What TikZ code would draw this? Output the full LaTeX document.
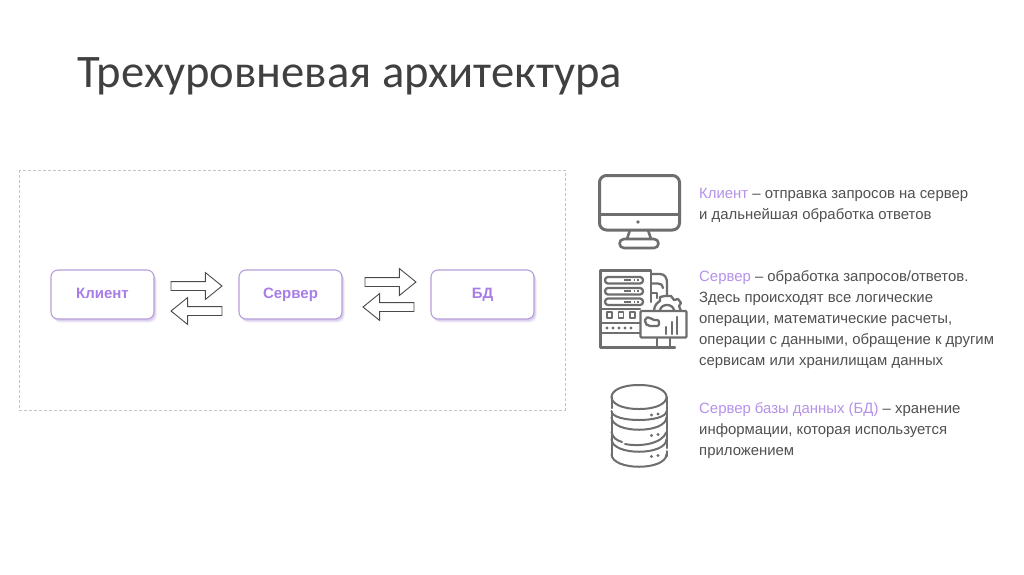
\documentclass[tikz,border=0pt]{standalone}
\usepackage{fontspec}
\setmainfont{Liberation Sans}
\newfontfamily\titlefont{Carlito}
\usetikzlibrary{shapes.arrows}
\definecolor{accent}{HTML}{A87DE8}
\definecolor{lilac}{HTML}{B79FDC}
\definecolor{bodytext}{HTML}{505050}
\definecolor{icongray}{HTML}{6E6E6E}
\definecolor{dashgray}{HTML}{C4C4C4}
\definecolor{arrowgray}{HTML}{4A4A4A}
\tikzset{
  x=1pt,y=-1pt,
  tier/.style={draw=lilac,line width=1.1pt,rounded corners=7pt,fill=white,minimum width=103pt,minimum height=49pt,inner sep=0pt,outer sep=0pt,
    text height=10.5pt,text depth=3pt,
    font=\fontsize{15}{16}\selectfont\bfseries,text=accent,
    preaction={draw=none,fill=lilac,fill opacity=.22,transform canvas={xshift=2.5pt,yshift=-3.5pt}},
    preaction={draw=none,fill=lilac,fill opacity=.35,transform canvas={xshift=1.5pt,yshift=-2pt}}},
  blockarrow/.style={single arrow,draw=arrowgray,line width=.9pt,fill=white,minimum height=51pt,text height=8pt,text depth=0pt,text width=0pt,single arrow head extend=9pt,single arrow tip angle=78,inner sep=0pt,outer sep=0pt,anchor=tail},
  desc/.style={anchor=north west,align=left,inner sep=0pt,text=bodytext,font=\fontsize{14.9}{21}\selectfont},
  icon/.style={draw=icongray,line width=3pt,line join=round,line cap=round},
  iconthin/.style={draw=icongray,line width=2.3pt,line join=round,line cap=round},
  dbline/.style={draw=icongray,line width=2pt,line cap=round},
}
\begin{document}
\begin{tikzpicture}
\useasboundingbox[fill=white] (0,0) rectangle (1024,574);
\node[anchor=west,inner sep=0pt,text=black!75,font=\titlefont\fontsize{46.6}{52}\selectfont] (title) at (77,76) {Трехуровневая архитектура};

\draw[dashgray,line width=.8pt,densely dashed] (19,170) rectangle (565,410);

\node[tier] (client) at (102.5,294.5) {Клиент};
\node[tier] (server) at (290.5,294.5) {Сервер};
\node[tier] (db) at (482.5,294.5) {БД};

\node[blockarrow] (a1) at (171,286) {};
\node[blockarrow,shape border rotate=180] (a2) at (222,311) {};
\node[blockarrow] (a3) at (365,282) {};
\node[blockarrow,shape border rotate=180] (a4) at (414,307) {};

% monitor icon
\draw[icon,rounded corners=7pt] (599.5,175.5) rectangle (679.5,230);
\draw[icon] (599.5,214) -- (679.5,214);
\fill[icongray] (638,222) circle (1.8pt);
\draw[iconthin,line width=2.6pt] (630,230) -- (627,239) (648,230) -- (651,239);
\draw[icon,line width=2.6pt,rounded corners=4.5pt] (619.5,239) rectangle (658.5,248);

% server icon
\begin{scope}
\draw[iconthin] (651,302) -- (651,270.5) -- (600.5,270.5) -- (600.5,347.5) -- (654,347.5);
\foreach \y in {277,288,298.5}{
  \draw[iconthin,rounded corners=3pt] (605,\y) rectangle (643,\y+6.5);
  \draw[icongray,line width=1.6pt] (624,\y+3.2) -- (631,\y+3.2) (633.5,\y+3.2) -- (635,\y+3.2) (637,\y+3.2) -- (639,\y+3.2);
}
\draw[iconthin] (600.5,309) -- (640,309);
\foreach \x in {607,618.5,630}{\draw[iconthin,line width=1.8pt] (\x,312) rectangle (\x+5,318);}
\draw[iconthin] (600.5,323) -- (640,323) (600.5,333) -- (640,333);
\foreach \x in {607,613,619,625,631}{\fill[icongray] (\x,328) circle (1.7pt);}
\draw[iconthin] (651,274) -- (660,274) .. controls (665,274) and (667,278) .. (667,283) -- (667,296);
\draw[iconthin] (651,283.5) -- (658,283.5) .. controls (661,283.5) and (663,285) .. (663,288);
\draw[iconthin] (651,293) -- (657,293) -- (657,298);
\draw[iconthin] (654,311) .. controls (654,305) and (658,302) .. (660,301) -- (660,297) -- (665,296) -- (671,296) -- (674,300) -- (678,299) -- (681,303) -- (679,306) -- (681,311);
\draw[iconthin] (660,311) .. controls (660,303) and (674,303) .. (674,311);
\draw[iconthin,fill=white,rounded corners=1pt] (640.5,311) rectangle (686.5,337.5);
\draw[iconthin,rounded corners=2pt] (645,318) -- (650,317) -- (652,320) -- (659,320) -- (659,326) -- (648,326) -- (645,323) -- cycle;
\draw[iconthin] (666,334) -- (666,327) (672,334) -- (672,322) (677,334) -- (677,317);
\draw[iconthin] (657,338) -- (657,346) (670,338) -- (670,346) (652,347.5) -- (675,347.5);
\end{scope}

% database icon
\draw[dbline] (639,385) .. controls (620.5,385) and (611.5,391) .. (611.5,397) .. controls (611.5,403) and (620.5,409) .. (639,409) .. controls (657.5,409) and (666.5,403) .. (666.5,397) .. controls (666.5,391) and (657.5,385) .. (639,385) -- cycle;
\draw[dbline] (611.5,397) -- (611.5,408) (611.5,412) -- (611.5,456);
\draw[dbline] (666.5,397) -- (666.5,448) (666.5,451) -- (666.5,456);
\draw[dbline] (611.5,411) .. controls (611.5,423) and (666.5,423) .. (666.5,411);
\draw[dbline] (611.5,417) .. controls (611.5,434) and (666.5,434) .. (666.5,417);
\draw[dbline] (611.5,432) .. controls (613,438) and (616,440) .. (622,442);
\draw[dbline] (625,444) .. controls (640,447) and (662,444) .. (666.5,432);
\draw[dbline] (611.5,439) .. controls (611.5,456) and (666.5,456) .. (666.5,439);
\draw[dbline] (611.5,454) .. controls (611.5,471) and (666.5,471) .. (666.5,454);
\foreach \y in {415,435.5,456.5}{
  \fill[icongray] (651.5,\y) circle (1.7pt) (658,\y-1) circle (1.7pt);
}

\node[desc] (t1) at (699,188) {\textcolor{accent!85}{Клиент} – отправка запросов на сервер\\и дальнейшая обработка ответов};
\node[desc] (t2) at (699,270) {\textcolor{accent!85}{Сервер} – обработка запросов/ответов.\\Здесь происходят все логические\\операции, математические расчеты,\\операции с данными, обращение к другим\\сервисам или хранилищам данных};
\node[desc] (t3) at (699,402) {\textcolor{accent!85}{Сервер базы данных (БД)} – хранение\\информации, которая используется\\приложением};
\end{tikzpicture}
\end{document}
